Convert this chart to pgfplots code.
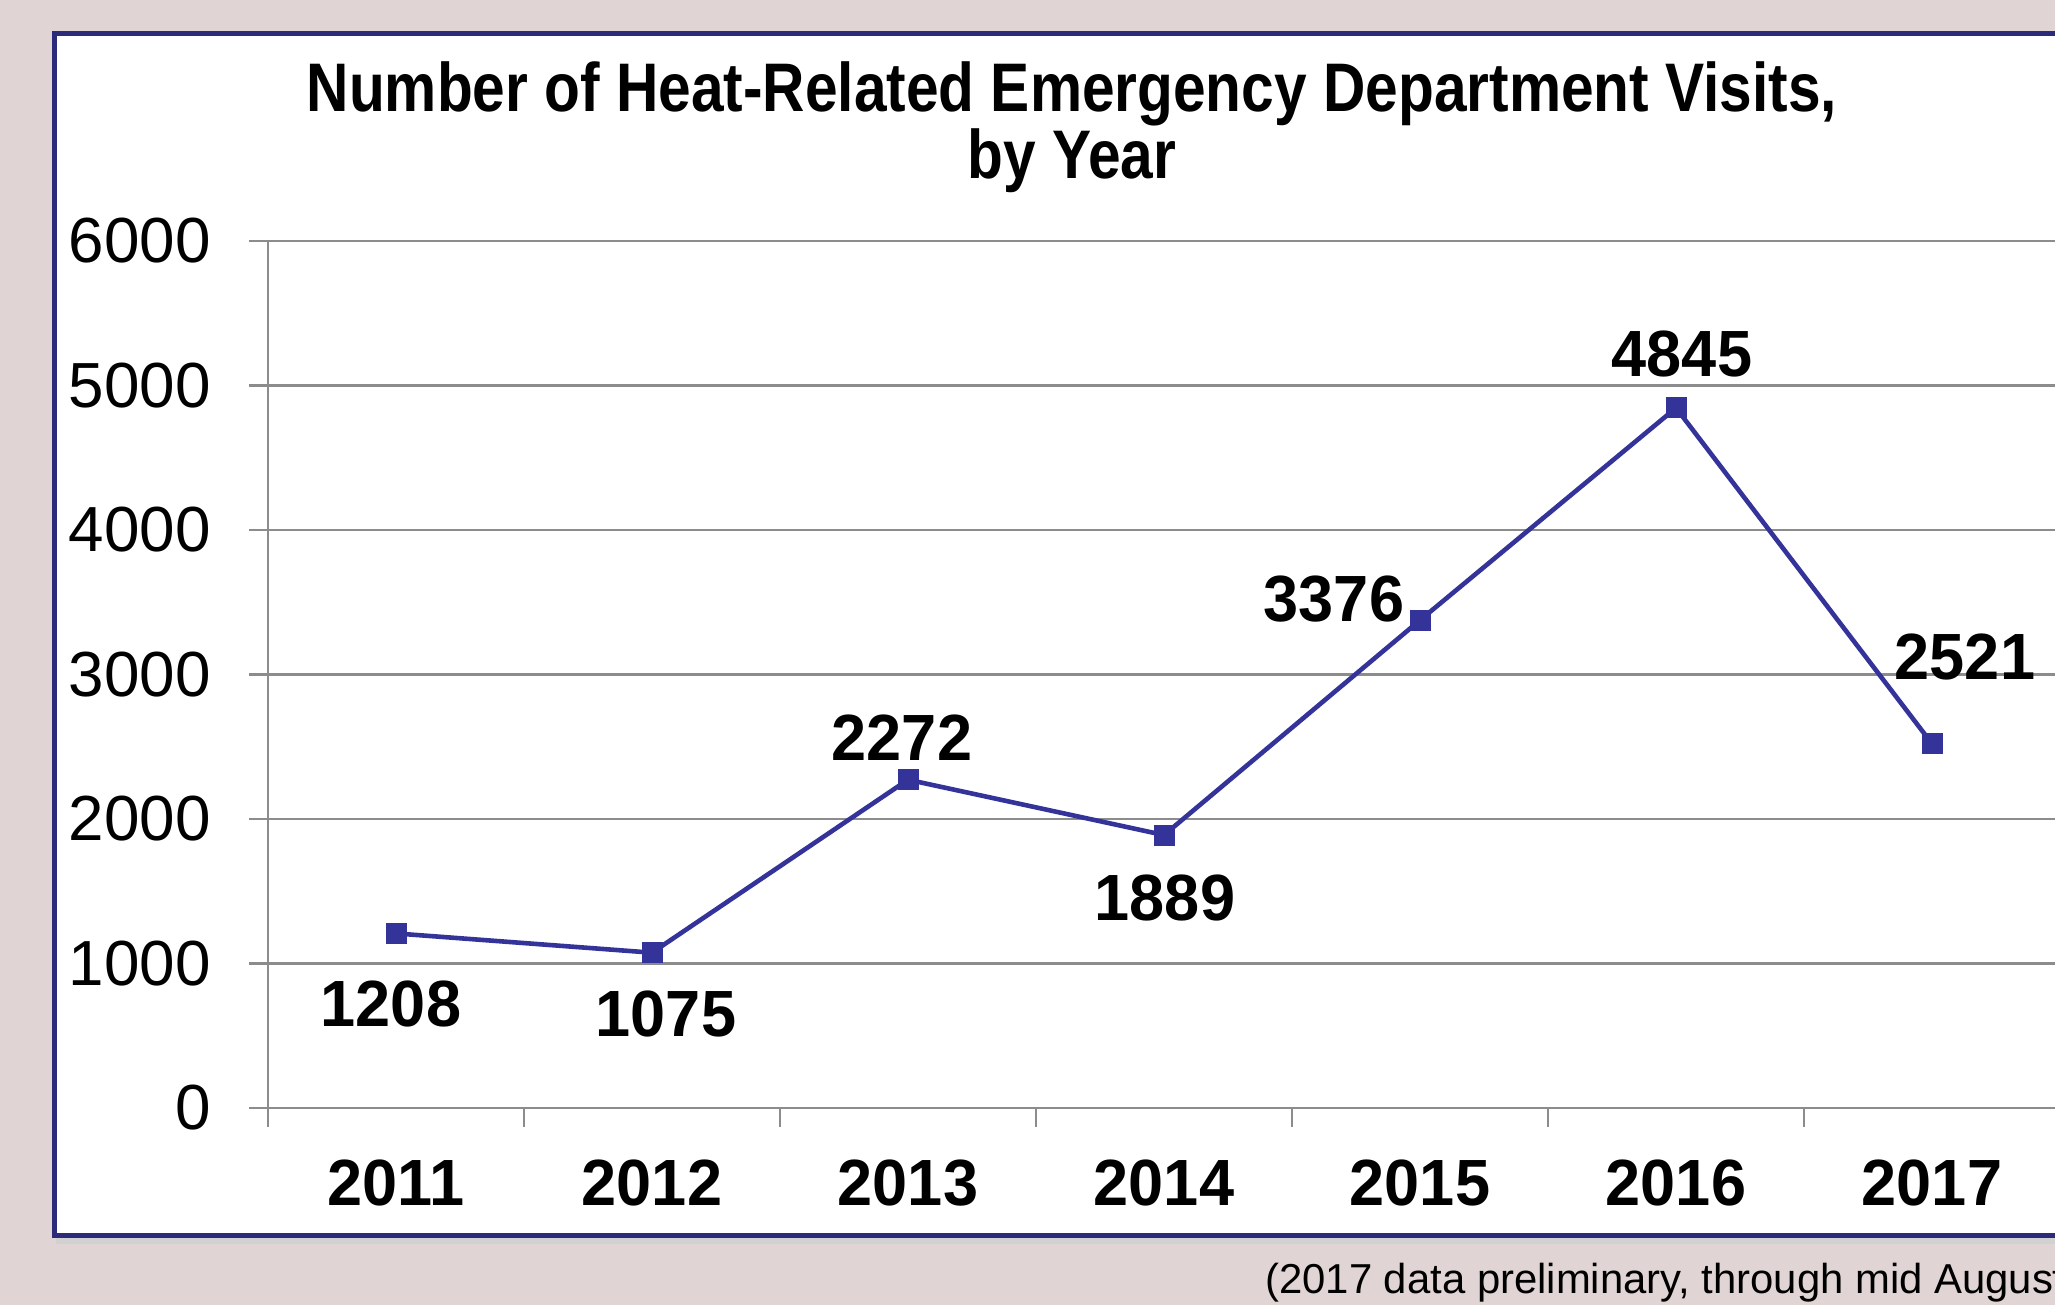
\documentclass[border=0pt]{standalone}
\usepackage{fontspec}
\setmainfont{Liberation Sans}
\newfontfamily\condA[FakeStretch=0.853]{Liberation Sans}
\newfontfamily\condB[FakeStretch=0.965]{Liberation Sans}
\usepackage{pgfplots}
\pgfplotsset{compat=1.18}
\definecolor{bgc}{HTML}{E0D4D4}
\definecolor{navy}{HTML}{2B2B7A}
\definecolor{serc}{HTML}{333399}
\definecolor{gridc}{HTML}{8C8C8C}
\tikzset{lab/.style={font=\condB\bfseries\fontsize{32.8}{38}\selectfont, inner sep=0pt, anchor=center}}
\begin{document}
\begin{tikzpicture}
\useasboundingbox (0,0) rectangle (1027.5bp,-652.5bp);
\clip (0,0) rectangle (1027.5bp,-652.5bp);
\fill[bgc] (0,0) rectangle (1027.5bp,-652.5bp);
\fill[black!18] (28bp,-618bp) rectangle (1100bp,-622bp);
\filldraw[fill=white, draw=navy, line width=2.5bp] (27.25bp,-16.75bp) rectangle (1100bp,-617.5bp);
\node[anchor=base, inner sep=0, font=\condA\bfseries\fontsize{34.5}{40}\selectfont] at (536bp,-55.5bp) {Number of Heat-Related Emergency Department Visits,};
\node[anchor=base, inner sep=0, font=\condA\bfseries\fontsize{34.5}{40}\selectfont] at (536bp,-89bp) {by Year};
\node[anchor=base west, inner sep=0, font=\fontsize{21}{24}\selectfont] at (632.5bp,-646.5bp) {(2017 data preliminary, through mid August)};
\begin{axis}[
  at={(134bp,-554bp)}, anchor=south west,
  scale only axis, width=896bp, height=433.5bp,
  xmin=-0.5, xmax=6.5, ymin=0, ymax=6000,
  ytick={0,1000,...,6000},
  xtick={-0.5,0.5,...,6.5},
  x tick label as interval,
  xticklabels={2011,2012,2013,2014,2015,2016,2017},
  axis lines*=left,
  axis line style={gridc, line width=1.2bp},
  ymajorgrids,
  grid style={gridc, line width=1.2bp},
  major tick style={gridc, line width=1.2bp},
  major tick length=9.5bp,
  tick align=outside,
  tick pos=left,
  /pgf/number format/assume math mode=true,
  /pgf/number format/1000 sep={},
  yticklabel style={font=\fontsize{32}{36}\selectfont, inner sep=0pt, xshift=-19bp},
  xticklabel style={font=\condB\bfseries\fontsize{32.8}{38}\selectfont, inner sep=0pt, anchor=base, yshift=-39bp},
  clip=false,
]
\addplot[serc, line width=2.3bp, mark=square*, mark size=5bp, mark options={solid, line width=0.5bp, fill=serc}] coordinates {(0,1208)(1,1075)(2,2272)(3,1889)(4,3376)(5,4845)(6,2521)};
\node[lab, xshift=-2.5bp, yshift=-35.5bp] at (axis cs:0,1208) {1208};
\node[lab, xshift=7bp, yshift=-30.5bp] at (axis cs:1,1075) {1075};
\node[lab, xshift=-3bp, yshift=21bp] at (axis cs:2,2272) {2272};
\node[lab, xshift=0.5bp, yshift=-31.5bp] at (axis cs:3,1889) {1889};
\node[lab, xshift=-43bp, yshift=10.5bp] at (axis cs:4,3376) {3376};
\node[lab, xshift=3bp, yshift=27bp] at (axis cs:5,4845) {4845};
\node[lab, xshift=16.5bp, yshift=43.5bp] at (axis cs:6,2521) {2521};
\end{axis}
\end{tikzpicture}
\end{document}
